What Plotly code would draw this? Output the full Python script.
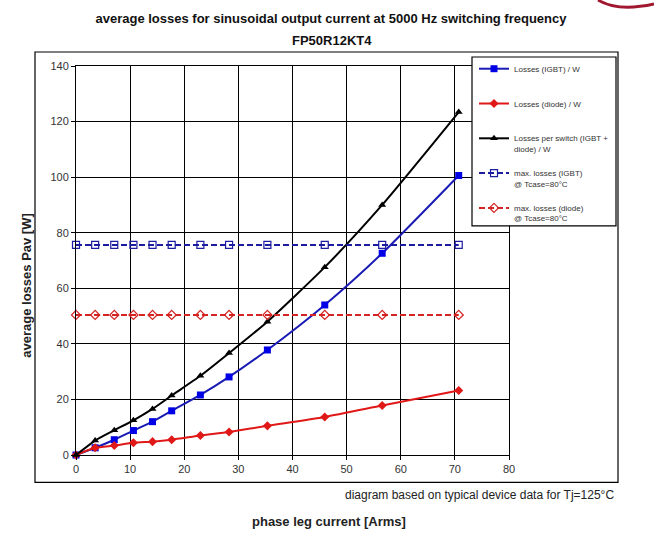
import plotly.graph_objects as go

# ---- data ----
current_arms = [0, 3.54, 7.07, 10.61, 14.14, 17.68, 22.98, 28.28, 35.36, 45.96, 56.57, 70.71]
loss_igbt = [0, 2.6, 5.5, 8.8, 12.0, 15.9, 21.6, 28.1, 37.8, 54.0, 72.6, 100.6]
loss_diode = [0, 2.6, 3.4, 4.4, 4.8, 5.5, 7.0, 8.3, 10.5, 13.7, 17.8, 23.2]
loss_switch = [0, 5.2, 8.9, 12.5, 16.6, 21.4, 28.5, 36.7, 48.0, 67.6, 90.0, 123.4]
max_igbt = [75.6] * len(current_arms)
max_diode = [50.4] * len(current_arms)

series_names = [
    "Losses (IGBT) / W<br> ",
    "Losses (diode) / W<br> ",
    "Losses per switch (IGBT +<br>diode) / W",
    "max. losses (IGBT)<br>@ Tcase=80°C",
    "max. losses (diode)<br>@ Tcase=80°C",
]

W, H = 654, 535
L, R = 76, 509   # plot area px (x: 0..80)
T, B = 66, 455.5  # plot area px (y: 140..0)


def px(x):
    return (x - L) / (R - L)


def py(y):
    return (B - y) / (B - T)


fig = go.Figure()

fig.add_trace(go.Scatter(
    x=current_arms, y=loss_igbt, name=series_names[0], legendgroup="g1",
    mode="lines+markers", line=dict(color="#1a1ab4", width=2, shape="spline", smoothing=0.6),
    marker=dict(symbol="square", size=7, color="#0000e6"), cliponaxis=False))
fig.add_trace(go.Scatter(
    x=current_arms, y=loss_diode, name=series_names[1], legendgroup="g2",
    mode="lines+markers", line=dict(color="#e01818", width=2, shape="spline", smoothing=0.6),
    marker=dict(symbol="diamond", size=7, color="#e01818"), cliponaxis=False))
fig.add_trace(go.Scatter(
    x=current_arms, y=loss_switch, name=series_names[2], legendgroup="g3",
    mode="lines+markers", line=dict(color="#000000", width=2, shape="spline", smoothing=0.6),
    marker=dict(symbol="triangle-up", size=7, color="#000000"), cliponaxis=False))
fig.add_trace(go.Scatter(
    x=current_arms, y=max_igbt, name=series_names[3], legendgroup="g4",
    mode="lines+markers", line=dict(color="#1c1ca0", width=2, dash="6px,3px"),
    marker=dict(symbol="square-open", size=7, color="#1c1ca0", line=dict(width=1.2)),
    cliponaxis=False))
fig.add_trace(go.Scatter(
    x=current_arms, y=max_diode, name=series_names[4], legendgroup="g5",
    mode="lines+markers", line=dict(color="#d42424", width=2, dash="6px,3px"),
    marker=dict(symbol="diamond-open", size=7, color="#d42424", line=dict(width=1.2)),
    cliponaxis=False))

tickfont = dict(family="Liberation Sans, Arial, sans-serif", size=11, color="#333333")

fig.update_xaxes(range=[0, 80], dtick=10, tick0=0, showgrid=True, gridcolor="#000000", gridwidth=1,
                 showline=True, linecolor="#000000", linewidth=1, mirror=True,
                 ticks="outside", ticklen=4, tickcolor="#000000", tickfont=tickfont, zeroline=False)
fig.update_yaxes(range=[0, 140], dtick=20, tick0=0, showgrid=True, gridcolor="#000000", gridwidth=1,
                 showline=True, linecolor="#000000", linewidth=1, mirror=True,
                 ticks="outside", ticklen=4, tickcolor="#000000", tickfont=tickfont, zeroline=False)

shapes = [
    # outer frame
    dict(type="rect", xref="paper", yref="paper", x0=px(35), x1=px(618), y0=py(483), y1=py(52),
         line=dict(color="#000000", width=1.2), fillcolor="rgba(0,0,0,0)", layer="above"),
    # legend box
    dict(type="rect", xref="paper", yref="paper", x0=px(472), x1=px(616), y0=py(226), y1=py(57),
         line=dict(color="#000000", width=1.2), fillcolor="#ffffff", layer="above"),
    # logo fragment at top right
    dict(type="path", xref="paper", yref="paper",
         path=f"M {px(598)},{py(0)} Q {px(618)},{py(12)} {px(654)},{py(4)}",
         line=dict(color="#a01830", width=3), layer="above"),
]

annotations = [
    dict(text="<b>FP50R12KT4</b>", xref="paper", yref="paper", x=px(332), y=py(40),
         showarrow=False, xanchor="center", yanchor="middle",
         font=dict(family="Liberation Sans Narrow, Arial Narrow, sans-serif", size=13, color="#111111")),
    dict(text="diagram based on typical device data for Tj=125°C", xref="paper", yref="paper",
         x=px(616), y=py(496), showarrow=False, xanchor="right", yanchor="middle",
         font=dict(family="Liberation Sans, Arial, sans-serif", size=12, color="#222222")),
    dict(text="<b>phase leg current [Arms]</b>", xref="paper", yref="paper",
         x=px(329), y=py(522), showarrow=False, xanchor="center", yanchor="middle",
         font=dict(family="Liberation Sans, Arial, sans-serif", size=13, color="#222222")),
    dict(text="<b>average losses Pav [W]</b>", xref="paper", yref="paper",
         x=px(27), y=py(286), showarrow=False, xanchor="center", yanchor="middle", textangle=-90,
         font=dict(family="Liberation Sans, Arial, sans-serif", size=13, color="#222222")),
]

fig.update_layout(
    width=W, height=H,
    margin=dict(l=L, r=W - R, t=T, b=H - B, pad=0),
    paper_bgcolor="#ffffff", plot_bgcolor="#ffffff",
    title=dict(text="<b>average losses for sinusoidal output current at 5000 Hz switching frequency</b>",
               x=331 / W, xanchor="center", y=1 - 18 / H, yanchor="middle",
               font=dict(family="Liberation Sans Narrow, Arial Narrow, sans-serif", size=13, color="#111111")),
    showlegend=True,
    legend=dict(x=px(474), y=py(57), xanchor="left", yanchor="top",
                bgcolor="rgba(0,0,0,0)", borderwidth=0, traceorder="grouped", tracegroupgap=11,
                valign="top", itemwidth=30,
                font=dict(family="Liberation Sans, Arial, sans-serif", size=8, color="#333333")),
    shapes=shapes, annotations=annotations,
)

fig.write_html("out.html")
